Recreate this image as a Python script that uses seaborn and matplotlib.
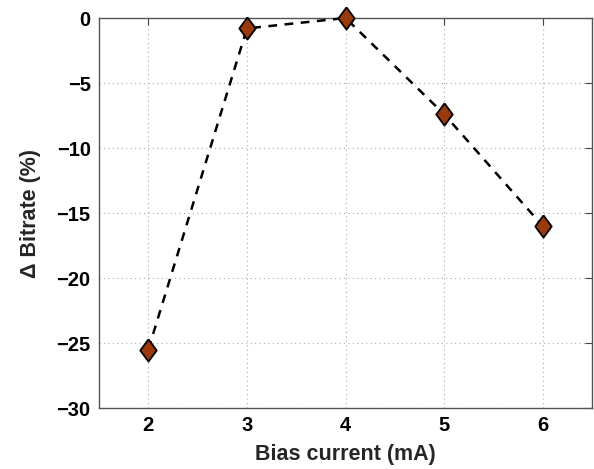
import matplotlib
matplotlib.use("Agg")
import matplotlib.pyplot as plt
import seaborn as sns
import pandas as pd

bias_current = [2, 3, 4, 5, 6]
delta_bitrate = [-25.5, -0.8, 0.0, -7.4, -16.0]
x_ticks = [2, 3, 4, 5, 6]
y_ticks = [0, -5, -10, -15, -20, -25, -30]

sns.set_style("white")
plt.rcParams['font.family'] = ['Liberation Sans', 'DejaVu Sans']
plt.rcParams['font.weight'] = 'bold'

df = pd.DataFrame({"Bias current (mA)": bias_current, "Δ Bitrate (%)": delta_bitrate})

fig = plt.figure(figsize=(5.94, 4.69), dpi=100)
ax = fig.add_axes([0.1667, 0.130, 0.83, 0.8316])

diamond = [(0, 1), (0.74, 0), (0, -1), (-0.74, 0), (0, 1)]
sns.lineplot(data=df, x="Bias current (mA)", y="Δ Bitrate (%)", ax=ax,
             color="black", linestyle=(0, (3.5, 3)), linewidth=1.8,
             marker=diamond, markersize=16, markerfacecolor="#9a3a0c",
             markeredgecolor="black", markeredgewidth=1.3, clip_on=False, zorder=5)

ax.set_xlim(1.5, 6.5)
ax.set_ylim(-30, 0)
ax.set_xticks(x_ticks)
ax.set_yticks(y_ticks)
ax.grid(True, linestyle=(0, (1, 3)), color="#aaaaaa", linewidth=0.8)
ax.tick_params(direction="in", length=5, width=0.8, labelsize=14.5, top=True, right=True,
               colors="#444444", labelcolor="black", pad=6)
for lab in ax.get_xticklabels() + ax.get_yticklabels():
    lab.set_fontweight("bold")
for s in ax.spines.values():
    s.set_color("#555555")
    s.set_linewidth(1.0)
ax.set_xlabel("Bias current (mA)", fontsize=15.5, fontweight="bold", labelpad=6)
ax.set_ylabel("Δ Bitrate (%)", fontsize=15.5, fontweight="bold", labelpad=11)

fig.savefig("out.png", dpi=100)
